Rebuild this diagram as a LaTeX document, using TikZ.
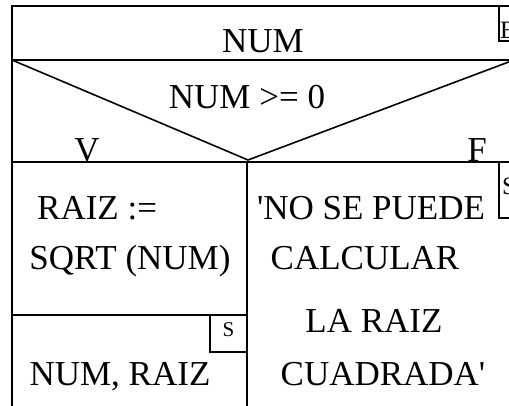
\documentclass[tikz,border=0pt]{standalone}
\usepackage{fontspec}
\setmainfont{Liberation Serif}
\tikzset{
  texto/.style={inner sep=0pt, anchor=base, font=\fontsize{35}{42}\selectfont},
  marca/.style={inner sep=0pt, anchor=base west, font=\fontsize{25}{30}\selectfont},
  linea/.style={line width=1.6pt, draw=black},
}
\begin{document}
\begin{tikzpicture}[x=1pt,y=-1pt]
  \useasboundingbox (0,0) rectangle (509,406);
  \clip (0,0) rectangle (509,406);
  % puntos del diagrama
  \coordinate (si) at (12,6);
  \coordinate (ci) at (12,60);
  \coordinate (cd) at (514,60);
  \coordinate (pico) at (248,160);
  \coordinate (ri) at (12,162);
  \coordinate (rm) at (247,162);
  % marco y bloques
  \draw[linea] (12,406) -- (si) -- (530,6);
  \draw[linea] (ci) -- (530,60);
  \draw[linea] (ci) -- (pico) -- (cd);
  \draw[linea] (ri) -- (530,162);
  \draw[linea] (rm) -- (247,406);
  \draw[linea] (12,315) -- (247,315);
  \draw[linea] (499,6) rectangle (540,41);
  \draw[linea] (499,162) rectangle (540,218);
  \draw[linea] (210,315) rectangle (247,352);
  % textos
  \node[texto] (entrada) at (263,53) {NUM};
  \node[texto] (cond) at (247,109) {NUM >= 0};
  \node[texto] (v) at (87,162) {V};
  \node[texto] (f) at (477,162) {F};
  \node[texto, anchor=base west] (asig1) at (37,220) {RAIZ :=};
  \node[texto] (asig2) at (130,270) {SQRT (NUM)};
  \node[texto] (msj1) at (371,220) {\textquotesingle NO SE PUEDE};
  \node[texto] (msj2) at (365,270) {CALCULAR};
  \node[texto] (msj3) at (374,332) {LA RAIZ};
  \node[texto] (msj4) at (383,385) {CUADRADA\textquotesingle};
  \node[texto] (salida) at (120,385) {NUM, RAIZ};
  \node[marca] (mE) at (500,39) {E};
  \node[marca] (mS1) at (502,195) {S};
  \node[marca, anchor=base, font=\fontsize{21}{25}\selectfont] (mS2) at (228.5,337) {S};
\end{tikzpicture}
\end{document}
